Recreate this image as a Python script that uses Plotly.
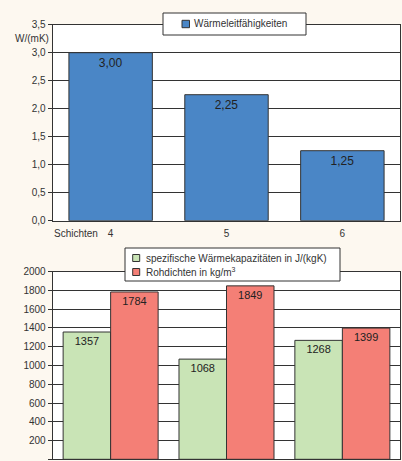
import plotly.graph_objects as go

# ---- data ----
categories = ["4", "5", "6"]
x_axis_label = "Schichten"
cond_name = "Wärmeleitfähigkeiten"
cond_values = [3.00, 2.25, 1.25]
cond_unit = "W/(mK)"
heat_name = "spezifische Wärmekapazitäten in J/(kgK)"
heat_values = [1357, 1068, 1268]
dens_name = "Rohdichten in kg/m<sup>3</sup>"
dens_values = [1784, 1849, 1399]

W, H = 402, 461
BLUE = "#4a86c6"
GREEN = "#c9e4b6"
RED = "#f47f76"
DARK = "#333333"
BG = "#fdf8f0"
FONT = "Liberation Sans, Arial, sans-serif"

def px(x):
    return x / W

def py(y):
    return 1 - y / H

fig = go.Figure()

fig.add_trace(go.Bar(
    x=categories, y=cond_values, name=cond_name, width=0.72,
    marker=dict(color=BLUE, line=dict(color=DARK, width=1)),
    texttemplate="%{y:.2f}", textposition="inside", insidetextanchor="end",
    textfont=dict(size=12, color="#222222"), xaxis="x", yaxis="y",
    showlegend=False,
))
fig.add_trace(go.Bar(
    x=categories, y=heat_values, name=heat_name,
    marker=dict(color=GREEN, line=dict(color=DARK, width=1)),
    texttemplate="%{y:d}", textposition="inside", insidetextanchor="end",
    textfont=dict(size=11, color="#222222"), xaxis="x2", yaxis="y2",
    showlegend=False,
))
fig.add_trace(go.Bar(
    x=categories, y=dens_values, name=dens_name,
    marker=dict(color=RED, line=dict(color=DARK, width=1)),
    texttemplate="%{y:d}", textposition="inside", insidetextanchor="end",
    textfont=dict(size=11, color="#222222"), xaxis="x2", yaxis="y2",
    showlegend=False,
))

axis_common = dict(showline=True, linecolor=DARK, linewidth=1, mirror=True, automargin=False,
                   tickfont=dict(size=10, color=DARK, family=FONT))
xdom = [px(52.7), px(400.3)]
fig.update_layout(
    width=W, height=H,
    margin=dict(l=0, r=0, t=0, b=0, pad=0, autoexpand=False),
    paper_bgcolor=BG, plot_bgcolor="white",
    font=dict(family=FONT, color=DARK, size=10),
    separators=",.",
    barmode="group", bargap=0.18, bargroupgap=0,
    xaxis=dict(domain=xdom, anchor="y", showgrid=False, ticks="", ticklabelstandoff=3,
               **axis_common),
    yaxis=dict(domain=[py(220.7), py(24.7)], anchor="x", range=[0, 3.5], dtick=0.5,
               tickformat=".1f", showgrid=True, gridcolor=DARK, gridwidth=1,
               ticks="outside", ticklen=4, tickcolor=DARK, zeroline=False, **axis_common),
    xaxis2=dict(domain=xdom, anchor="y2", showgrid=False, ticks="", showticklabels=False,
                **axis_common),
    yaxis2=dict(domain=[py(459.3), py(271.7)], anchor="x2", range=[0, 2000], dtick=200,
                tickformat="d", showgrid=True, gridcolor=DARK, gridwidth=1,
                ticks="outside", ticklen=4, tickcolor=DARK, zeroline=False, **axis_common),
)

shapes = []
annotations = []

# top legend box
shapes.append(dict(type="rect", xref="paper", yref="paper", layer="above",
                   x0=px(163), x1=px(306), y0=py(35), y1=py(13),
                   fillcolor="white", line=dict(color=DARK, width=1)))
shapes.append(dict(type="rect", xref="paper", yref="paper", layer="above",
                   x0=px(182), x1=px(189.5), y0=py(27.7), y1=py(20.3),
                   fillcolor=BLUE, line=dict(color=DARK, width=1)))
annotations.append(dict(text=cond_name, xref="paper", yref="paper", x=px(192), y=py(24),
                        xanchor="left", yanchor="middle", showarrow=False,
                        font=dict(size=10, color=DARK)))

# bottom legend box
shapes.append(dict(type="rect", xref="paper", yref="paper", layer="above",
                   x0=px(125), x1=px(340), y0=py(281), y1=py(248),
                   fillcolor="white", line=dict(color=DARK, width=1)))
for yc, col, name in [(258, GREEN, heat_name), (272, RED, dens_name)]:
    shapes.append(dict(type="rect", xref="paper", yref="paper", layer="above",
                       x0=px(132.7), x1=px(139.7), y0=py(yc + 3.5), y1=py(yc - 3.5),
                       fillcolor=col, line=dict(color=DARK, width=1)))
    annotations.append(dict(text=name, xref="paper", yref="paper", x=px(143.5), y=py(yc),
                            xanchor="left", yanchor="middle", showarrow=False,
                            font=dict(size=10, color=DARK)))

# axis titles
annotations.append(dict(text=cond_unit, xref="paper", yref="paper", x=px(50.5), y=py(38.5),
                        xanchor="right", yanchor="middle", showarrow=False,
                        font=dict(size=10, color=DARK)))
annotations.append(dict(text=x_axis_label, xref="paper", yref="paper", x=px(51.5), y=py(233),
                        xanchor="left", yanchor="middle", showarrow=False,
                        font=dict(size=10, color=DARK)))

fig.update_layout(shapes=shapes, annotations=annotations)
fig.write_html("out.html")
